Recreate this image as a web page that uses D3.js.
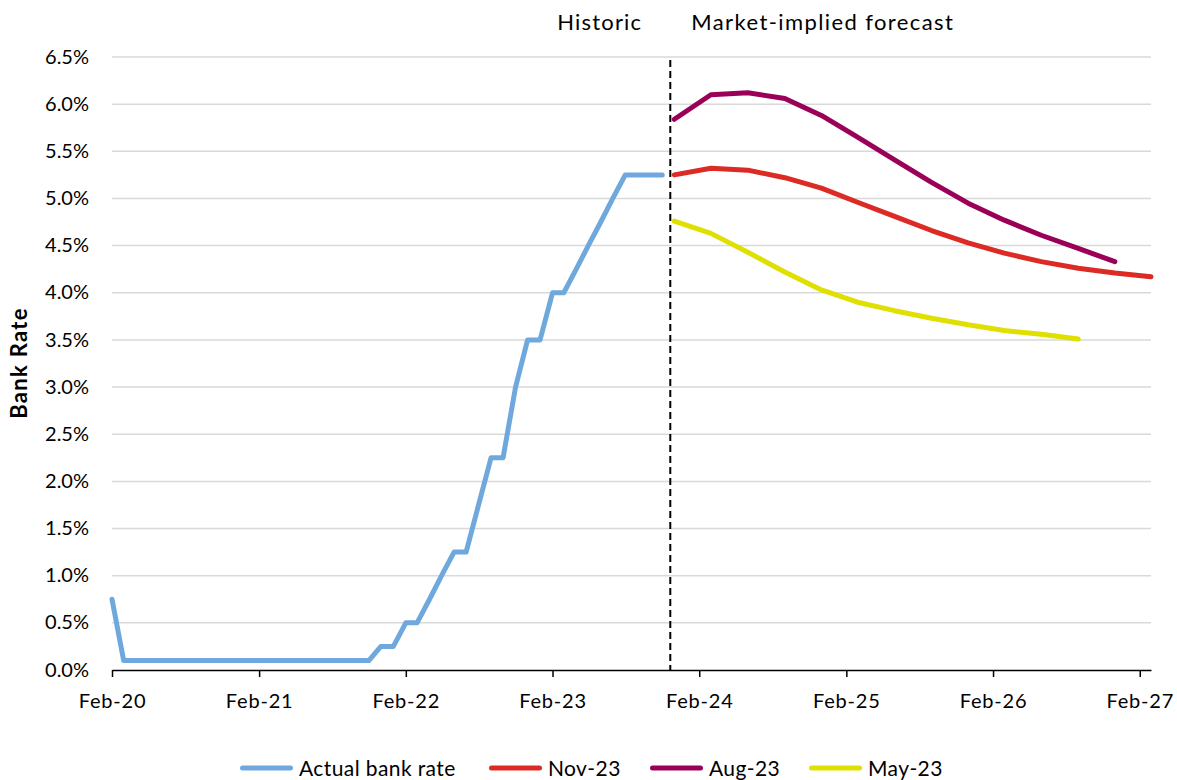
<!DOCTYPE html>
<html><head><meta charset="utf-8">
<script src="https://cdn.jsdelivr.net/npm/d3@7"></script>
<style>body{margin:0;background:#fff}svg{display:block}text{font-family:Lato,"Open Sans",sans-serif;fill:#000}</style>
</head><body><svg id="c" width="1177" height="780"></svg>
<script>
// Actual bank rate, monthly from Feb-20
const actualStart = [2020, 1];
const actualValues = [0.75,0.10,0.10,0.10,0.10,0.10,0.10,0.10,0.10,0.10,0.10,0.10,
  0.10,0.10,0.10,0.10,0.10,0.10,0.10,0.10,0.10,0.10,0.25,0.25,
  0.50,0.50,0.75,1.00,1.25,1.25,1.75,2.25,2.25,3.00,3.50,3.50,
  4.00,4.00,4.25,4.50,4.75,5.00,5.25,5.25,5.25,5.25];
// Market-implied forecasts, quarterly from Dec-23
const forecastStart = [2023, 11];
const nov23 = [5.25,5.32,5.30,5.22,5.11,4.96,4.81,4.66,4.53,4.42,4.33,4.26,4.21,4.17];
const aug23 = [5.84,6.10,6.12,6.06,5.88,5.65,5.41,5.17,4.95,4.77,4.61,4.47,4.33];
const may23 = [4.76,4.63,4.43,4.22,4.03,3.90,3.81,3.73,3.66,3.60,3.56,3.51];
const yTicks = [0,0.5,1,1.5,2,2.5,3,3.5,4,4.5,5,5.5,6,6.5];
const xTickLabels = ["Feb-20","Feb-21","Feb-22","Feb-23","Feb-24","Feb-25","Feb-26","Feb-27"];
const dividerDate = new Date(2023, 10, 21);
const seriesNames = ["Actual bank rate","Nov-23","Aug-23","May-23"];
const colors = ["#6fa8dc","#dc2a24","#9b0059","#dfe000"];

const svg = d3.select("#c");
const x = d3.scaleTime().domain([new Date(2020,1,1), new Date(2027,2,1)]).range([112, 1151]);
const y = d3.scaleLinear().domain([0,6.5]).range([670, 57]);

const monthly = (start, vals, step) => vals.map((v,i)=>({d:new Date(start[0], start[1]+i*step, 1), v}));
const series = [
  monthly(actualStart, actualValues, 1),
  monthly(forecastStart, nov23, 3),
  monthly(forecastStart, aug23, 3),
  monthly(forecastStart, may23, 3)
];

// gridlines
svg.append("g").selectAll("line").data(yTicks.filter(t=>t>0)).join("line")
  .attr("x1", x.range()[0]).attr("x2", x.range()[1])
  .attr("y1", d=>y(d)).attr("y2", d=>y(d))
  .attr("stroke","#d9d9d9").attr("stroke-width",1.5);

// y labels
svg.append("g").selectAll("text").data(yTicks).join("text")
  .attr("x", 89).attr("y", d=>y(d)).attr("dy","0.33em")
  .attr("text-anchor","end").attr("font-size",20)
  .text(d=>d3.format(".1f")(d)+"%");

// x axis
const xTickDates = xTickLabels.map((l,i)=>new Date(2020+i,1,1));
const xAxis = d3.axisBottom(x).tickValues(xTickDates).tickFormat((d,i)=>xTickLabels[i]).tickSize(7).tickSizeOuter(0);
const gx = svg.append("g").attr("transform",`translate(0,${y(0)})`).call(xAxis);
gx.select(".domain").attr("stroke","#000").attr("stroke-width",1.5);
gx.selectAll(".tick line").attr("stroke","#000").attr("stroke-width",1.5);
gx.selectAll(".tick text").attr("font-size",20).attr("y",37.5).attr("dy",0)
  .attr("letter-spacing","0.8px")
  .style("font-family","Lato,'Open Sans',sans-serif").attr("fill","#000");

// series
const line = d3.line().x(d=>x(d.d)).y(d=>y(d.v));
svg.append("g").selectAll("path").data(series).join("path")
  .attr("d", line).attr("fill","none")
  .attr("stroke",(d,i)=>colors[i]).attr("stroke-width",5)
  .attr("stroke-linecap","round").attr("stroke-linejoin","round");

// divider
svg.append("line").attr("x1",x(dividerDate)).attr("x2",x(dividerDate))
  .attr("y1",60).attr("y2",y(0))
  .attr("stroke","#000").attr("stroke-width",2).attr("stroke-dasharray","7,4");

svg.append("text").attr("x",x(dividerDate)-28).attr("y",30).attr("text-anchor","end")
  .attr("font-size",22).attr("letter-spacing","1.2px").text("Historic");
svg.append("text").attr("x",x(dividerDate)+21).attr("y",30).attr("text-anchor","start")
  .attr("font-size",22).attr("letter-spacing","1.4px").text("Market-implied forecast");

// y title
svg.append("text").attr("transform",`translate(27,363) rotate(-90)`)
  .attr("text-anchor","middle").attr("font-size",22).attr("font-weight","bold")
  .attr("letter-spacing","1.3px").text("Bank Rate");

// legend
const legX = [240, 489, 650, 809];
const lg = svg.append("g").selectAll("g").data(seriesNames).join("g")
  .attr("transform",(d,i)=>`translate(${legX[i]},768)`);
lg.append("line").attr("x1",2.5).attr("x2",50.5).attr("stroke",(d,i)=>colors[i]).attr("stroke-width",5).attr("stroke-linecap","round");
lg.append("text").attr("x",59).attr("y",7.5).attr("font-size",21).attr("letter-spacing","0.4px").text(d=>d);
</script></body></html>
